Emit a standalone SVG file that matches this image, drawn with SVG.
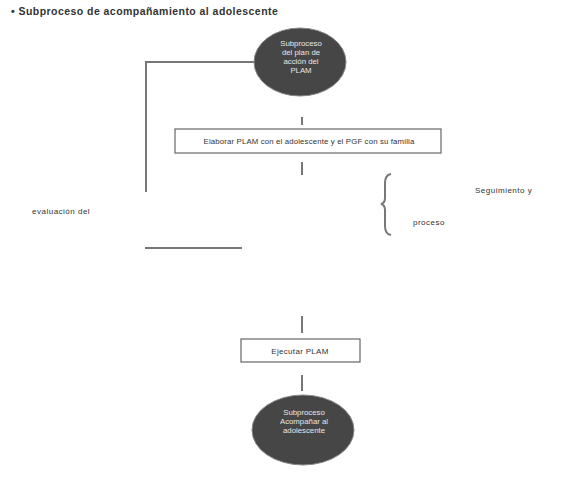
<svg xmlns="http://www.w3.org/2000/svg" width="562" height="479" viewBox="0 0 562 479">
<style>
.t{font-family:"Liberation Sans",Arial,sans-serif;fill:#333}
.e{fill:#464646;stroke:#888;stroke-width:1}
.et{font-family:"Liberation Sans",Arial,sans-serif;font-size:7.8px;fill:#e6e6e6;text-anchor:middle}
.b{fill:#fff;stroke:#666;stroke-width:1.2}
.c{stroke:#777;stroke-width:2;fill:none}
</style>
<rect width="562" height="479" fill="#fff"/>
<text class="t" x="11" y="15" font-size="10.5" font-weight="bold" letter-spacing="0.45">• Subproceso de acompañamiento al adolescente</text>
<g id="connectors">
<polyline class="c" points="254,62 146,62 146,192"/>
<line class="c" x1="302" y1="117" x2="302" y2="125"/>
<line class="c" x1="302" y1="162" x2="302" y2="175"/>
<line class="c" x1="145" y1="248" x2="242" y2="248"/>
<line class="c" x1="302" y1="316" x2="302" y2="333"/>
<line class="c" x1="302" y1="375" x2="302" y2="391"/>
<path class="c" stroke-width="1.5" d="M391,174 Q385,175 385,183 L385,198 Q385,203 381,204 Q385,205 385,210 L385,226 Q385,234 391,235"/>
</g>
<g id="n1">
<ellipse class="e" cx="300" cy="62" rx="46" ry="34"/>
<text class="et" x="301" y="46">Subproceso</text>
<text class="et" x="301" y="55">del plan de</text>
<text class="et" x="301" y="64">acción del</text>
<text class="et" x="301" y="73">PLAM</text>
</g>
<g id="n2">
<rect class="b" x="175" y="129" width="266" height="24"/>
<text class="t" x="309" y="144" font-size="7.8" letter-spacing="0.15" text-anchor="middle">Elaborar PLAM con el adolescente y el PGF con su familia</text>
</g>
<g id="n3">
<text class="t" x="475" y="193" font-size="8" letter-spacing="0.5">Seguimiento  y</text>
<text class="t" x="413" y="225" font-size="8" letter-spacing="0.5">proceso</text>
<text class="t" x="32" y="214" font-size="8" letter-spacing="0.5">evaluación  del</text>
</g>
<g id="n4">
<rect class="b" x="241" y="339" width="119" height="23"/>
<text class="t" x="300" y="353.5" font-size="8" letter-spacing="0.3" text-anchor="middle">Ejecutar PLAM</text>
</g>
<g id="n5">
<ellipse class="e" cx="303" cy="430" rx="51" ry="35"/>
<text class="et" x="304" y="415">Subproceso</text>
<text class="et" x="304" y="424">Acompañar al</text>
<text class="et" x="304" y="433">adolescente</text>
</g>
</svg>
